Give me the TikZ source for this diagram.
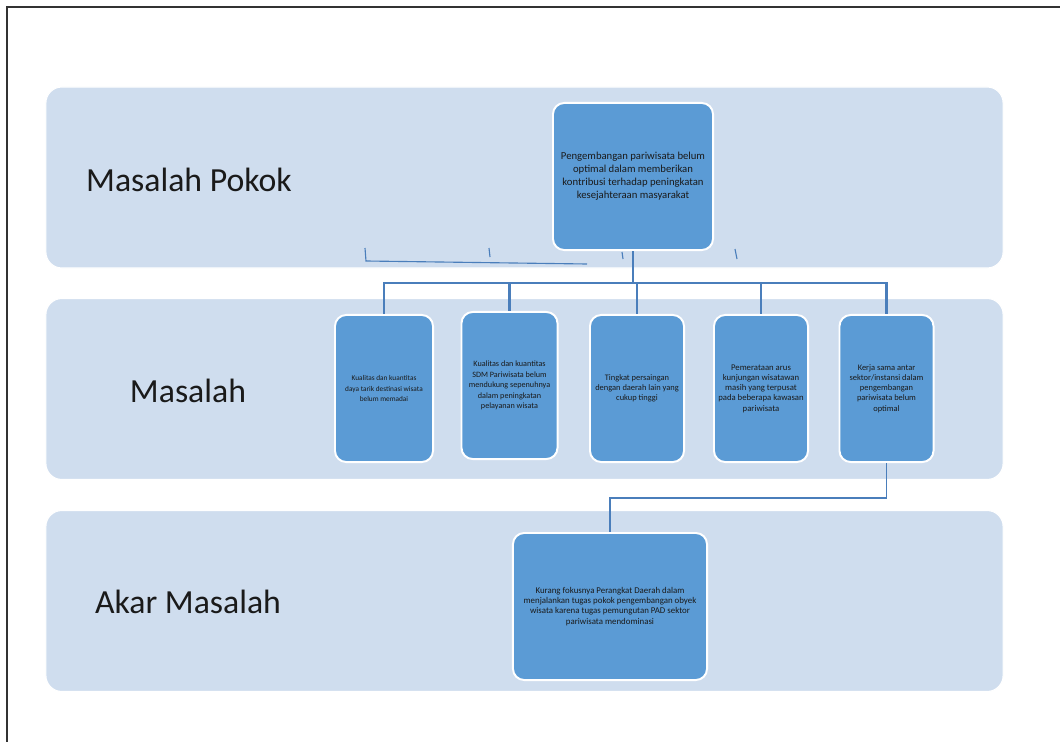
\documentclass[tikz,border=0pt]{standalone}
\usepackage{fontspec}
\setmainfont{Carlito}
\definecolor{bandfill}{HTML}{CFDDEE}
\definecolor{boxfill}{HTML}{5B9BD5}
\definecolor{linecol}{HTML}{4A7EBB}
\definecolor{txt}{HTML}{1A1A1A}
\begin{document}
\begin{tikzpicture}[x=0.025cm,y=-0.025cm,
  band/.style={draw=white,line width=0.8pt,fill=bandfill,rounded corners=0.4cm,minimum width=23.925cm,minimum height=4.525cm,inner sep=0pt},
  bandlabel/.style={font=\fontsize{24}{28}\selectfont,text=txt,inner sep=0pt},
  ibox/.style={draw=white,line width=1.4pt,fill=boxfill,rounded corners=0.28cm,minimum height=3.675cm,inner sep=1pt,align=center,text=txt},
  conn/.style={draw=linecol,line width=1.5pt},
  thinconn/.style={draw=linecol,line width=1.1pt},
  tick/.style={draw=linecol,line width=0.8pt}]
\useasboundingbox (0,0) rectangle (1060,742);
\fill[white] (0,0) rectangle (1060,742);
\draw[black!80,line width=0.8pt] (7,742) -- (7,7) -- (1060,7);
% bands
\node[band] (band1) at (524.5,177.5) {};
\node[band] (band2) at (524.5,389) {};
\node[band] (band3) at (524.5,601) {};
\node[bandlabel] (l1) at (189,180) {Masalah Pokok};
\node[bandlabel] (l2) at (188,391) {Masalah};
\node[bandlabel] (l3) at (188,602) {Akar Masalah};
% boxes
\node[ibox,minimum width=4cm,font=\fontsize{7.6}{9.2}\selectfont] (top) at (633,176.5)
  {Pengembangan pariwisata belum\\optimal dalam memberikan\\kontribusi terhadap peningkatan\\kesejahteraan masyarakat};
\node[ibox,minimum width=2.45cm,font=\fontsize{5.2}{7.2}\selectfont] (b1) at (384,388.5)
  {Kualitas dan kuantitas\\daya tarik destinasi wisata\\belum memadai};
\node[ibox,minimum width=2.4cm,font=\fontsize{5.8}{7.4}\selectfont] (b2) at (509.5,385.5)
  {Kualitas dan kuantitas\\SDM Pariwisata belum\\mendukung sepenuhnya\\dalam peningkatan\\pelayanan wisata};
\node[ibox,minimum width=2.35cm,font=\fontsize{6}{7.2}\selectfont] (b3) at (637,388.5)
  {Tingkat persaingan\\dengan daerah lain yang\\cukup tinggi};
\node[ibox,minimum width=2.35cm,font=\fontsize{6.2}{7.3}\selectfont] (b4) at (761,388.5)
  {Pemerataan arus\\kunjungan wisatawan\\masih yang terpusat\\pada beberapa kawasan\\pariwisata};
\node[ibox,minimum width=2.35cm,font=\fontsize{6}{7.3}\selectfont] (b5) at (886.5,388.5)
  {Kerja sama antar\\sektor/instansi dalam\\pengembangan\\pariwisata belum\\optimal};
\node[ibox,minimum width=4.85cm,font=\fontsize{6.3}{7.2}\selectfont] (root) at (610,606.5)
  {Kurang fokusnya Perangkat Daerah dalam\\menjalankan tugas pokok pengembangan obyek\\wisata karena tugas pemungutan PAD sektor\\pariwisata mendominasi};
% connectors
\coordinate (bus) at (0,283);
\draw[conn,line width=2pt] (top.south) -- (top.south |- bus);
\draw[conn] (b1.north) -- (b1.north |- bus) -- (b5.north |- bus) -- (b5.north);
\foreach \b in {b2,b3,b4} \draw[conn] (\b.north) -- (\b.north |- bus);
\draw[thinconn] (b5.south) -- ++(0,35) -| (root.north);
% stray ticks
\draw[tick] (365,248) -- (366,261) -- (587,264);
\draw[tick] (489,248) -- (490,257);
\draw[tick] (622,252) -- (623,259);
\draw[tick] (735,249) -- (737,259);
\end{tikzpicture}
\end{document}
